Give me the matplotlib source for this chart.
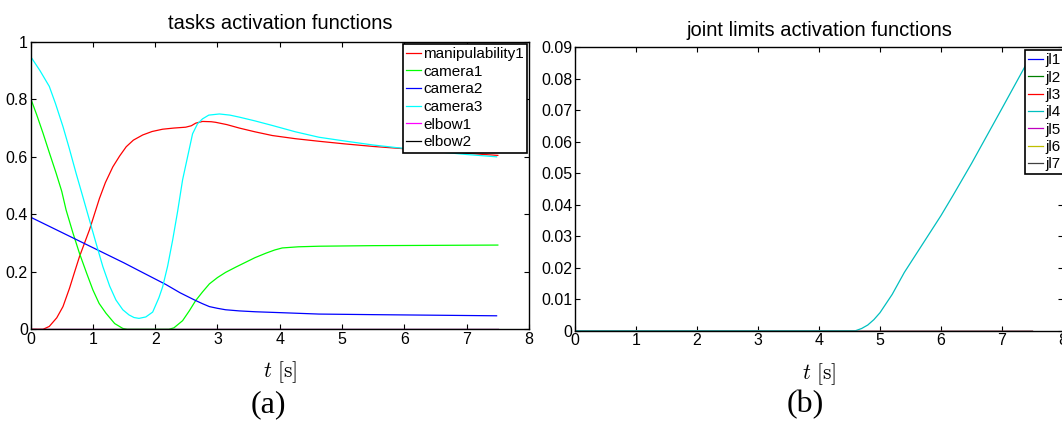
import matplotlib
matplotlib.use('Agg')
import matplotlib.pyplot as plt

plt.rcParams['font.family'] = ['Liberation Sans', 'DejaVu Sans']
plt.rcParams['mathtext.fontset'] = 'cm'

# (a) tasks activation functions
t_manip = [0, 0.2, 0.3, 0.42, 0.52, 0.625, 0.7, 0.785, 0.945, 1.105, 1.2, 1.32, 1.43, 1.535, 1.65, 1.8,
           1.95, 2.12, 2.3, 2.49, 2.58, 2.65, 2.76, 2.9, 2.97, 3.15, 3.35, 3.6, 3.88, 4.25, 4.63, 5.04,
           5.5, 6.0, 6.5, 7.0, 7.5]
manip = [0, 0, 0.01, 0.04, 0.079, 0.143, 0.195, 0.253, 0.346, 0.455, 0.51, 0.565, 0.603, 0.635, 0.658, 0.676,
         0.688, 0.696, 0.70, 0.703, 0.708, 0.717, 0.723, 0.722, 0.72, 0.712, 0.70, 0.687, 0.674, 0.663, 0.654, 0.645,
         0.636, 0.628, 0.62, 0.612, 0.605]

t_cam1 = [0, 0.1, 0.2, 0.3, 0.41, 0.5, 0.57, 0.68, 0.785, 0.9, 1.0, 1.1, 1.21, 1.35, 1.48, 1.55, 2.22, 2.3,
          2.44, 2.55, 2.65, 2.76, 2.87, 3.0, 3.13, 3.3, 3.45, 3.6, 3.78, 3.92, 4.04, 4.3, 4.63, 5.5, 6.5, 7.5]
cam1 = [0.804, 0.745, 0.682, 0.615, 0.543, 0.48, 0.415, 0.335, 0.264, 0.195, 0.137, 0.09, 0.056, 0.02, 0.003, 0, 0, 0.005,
        0.03, 0.065, 0.10, 0.13, 0.158, 0.18, 0.198, 0.217, 0.233, 0.249, 0.265, 0.276, 0.283, 0.287, 0.289, 0.291, 0.292, 0.293]

t_cam2 = [0, 0.5, 1, 1.5, 1.74, 2.17, 2.4, 2.65, 2.76, 2.87, 3.0, 3.13, 3.35, 3.61, 4.0, 4.63, 5.5, 6.5, 7.48]
cam2 = [0.39, 0.337, 0.284, 0.231, 0.204, 0.156, 0.127, 0.10, 0.089, 0.079, 0.073, 0.068, 0.064, 0.061, 0.058, 0.053, 0.051, 0.049, 0.047]

t_cam3 = [0, 0.15, 0.3, 0.4, 0.52, 0.62, 0.73, 0.84, 0.945, 1.05, 1.16, 1.27, 1.37, 1.48, 1.58, 1.66, 1.74,
          1.85, 1.96, 2.06, 2.12, 2.2, 2.28, 2.36, 2.44, 2.52, 2.6, 2.68, 2.76, 2.86, 3.03, 3.2, 3.35, 3.6,
          3.88, 4.25, 4.63, 5.04, 5.5, 5.87, 6.2, 6.6, 7.0, 7.48]
cam3 = [0.949, 0.90, 0.845, 0.785, 0.705, 0.63, 0.543, 0.46, 0.38, 0.30, 0.218, 0.15, 0.102, 0.068, 0.05, 0.041, 0.038,
        0.043, 0.06, 0.11, 0.148, 0.22, 0.31, 0.41, 0.52, 0.60, 0.68, 0.715, 0.732, 0.745, 0.749, 0.745, 0.738, 0.725,
        0.709, 0.687, 0.668, 0.655, 0.641, 0.632, 0.625, 0.616, 0.608, 0.60]

t_zero = [0, 7.5]
zero = [0, 0]

task_labels = ['manipulability1', 'camera1', 'camera2', 'camera3', 'elbow1', 'elbow2']
task_colors = ['#ff0000', '#00ff00', '#0000ff', '#00ffff', '#ff00ff', '#000000']

# (b) joint limits activation functions
t_jl4 = [0, 4.6, 4.7, 4.8, 4.9, 5.0, 5.2, 5.4, 5.6, 5.8, 6.0, 6.2, 6.5, 7.0, 7.36, 7.5]
jl4 = [0, 0, 0.0007, 0.0018, 0.0035, 0.0057, 0.0115, 0.0185, 0.0245, 0.0305, 0.0365, 0.043, 0.053, 0.0705, 0.0832, 0.088]

jl_labels = ['jl1', 'jl2', 'jl3', 'jl4', 'jl5', 'jl6', 'jl7']
jl_colors = ['#0000ff', '#008000', '#ff0000', '#00bfbf', '#bf00bf', '#bfbf00', '#404040']

fig = plt.figure(figsize=(10.62, 4.21), dpi=100)
ax1 = fig.add_axes([0.0288, 0.2178, 0.4693, 0.6829])
ax2 = fig.add_axes([0.5414, 0.2145, 0.4595, 0.6739])

task_data = [(t_manip, manip), (t_cam1, cam1), (t_cam2, cam2), (t_cam3, cam3), (t_zero, zero), (t_zero, zero)]
for (tt, yy), lab, col in zip(task_data, task_labels, task_colors):
    ax1.plot(tt, yy, color=col, lw=0.9, label=lab)

for lab, col in zip(jl_labels, jl_colors):
    if lab == 'jl4':
        ax2.plot(t_jl4, jl4, color=col, lw=0.9, label=lab)
    else:
        ax2.plot(t_zero, zero, color=col, lw=0.9, label=lab)

ax1.set_xlim(0, 8)
ax1.set_ylim(0, 1)
ax1.set_xticks(range(9))
ax1.set_yticks([0, 0.2, 0.4, 0.6, 0.8, 1])
ax1.set_yticklabels(['0', '0.2', '0.4', '0.6', '0.8', '1'])
ax1.set_title('tasks activation functions', fontsize=14.5, pad=9)

ax2.set_xlim(0, 8)
ax2.set_ylim(0, 0.09)
ax2.set_xticks(range(9))
ax2.set_yticks([i * 0.01 for i in range(10)])
ax2.set_yticklabels(['0'] + ['0.0%d' % i for i in range(1, 10)])
ax2.set_title('joint limits activation functions', fontsize=14.5, pad=8)

for ax in (ax1, ax2):
    ax.tick_params(direction='in', top=True, right=True, labelsize=11.5, length=3.6, width=0.8, pad=2)
    for s in ax.spines.values():
        s.set_linewidth(1.0)
    ax.set_xlabel(r'$t\ [\mathrm{s}]$', fontsize=15.5, labelpad=9)

leg1 = ax1.legend(loc='upper left', bbox_to_anchor=(0.747, 0.992), borderaxespad=0, fontsize=11,
                  handlelength=1.0, handletextpad=0.13, labelspacing=0.24, borderpad=0.2,
                  frameon=True, fancybox=False, edgecolor='black', framealpha=1)
leg1.get_frame().set_linewidth(1.2)

leg2 = ax2.legend(loc='upper left', bbox_to_anchor=(0.922, 0.989), borderaxespad=0, fontsize=11,
                  handlelength=1.0, handletextpad=0.13, labelspacing=0.22, borderpad=0.2,
                  frameon=True, fancybox=False, edgecolor='black', framealpha=1)
leg2.get_frame().set_linewidth(1.2)

fig.text(268 / 1062, 0.038, '(a)', fontsize=23, family='Liberation Serif', ha='center', va='center')
fig.text(805 / 1062, 0.038, '(b)', fontsize=23, family='Liberation Serif', ha='center', va='center')

fig.savefig('out.png', dpi=100)
